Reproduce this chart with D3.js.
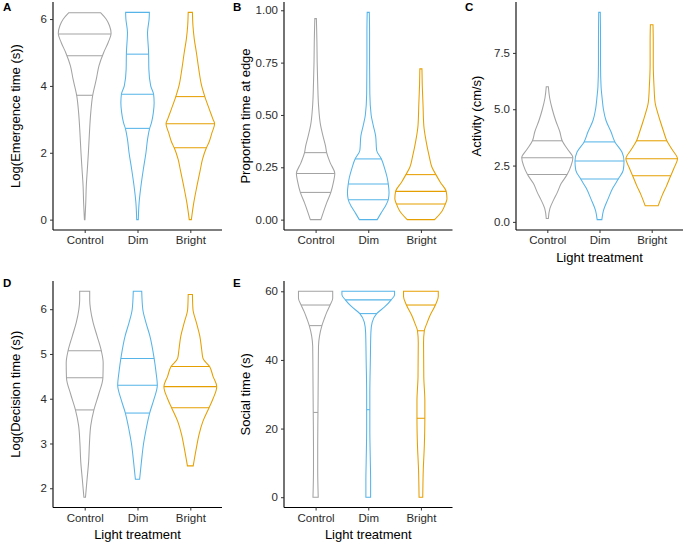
<!DOCTYPE html>
<html>
<head>
<meta charset="utf-8">
<script src="https://cdn.jsdelivr.net/npm/d3@7"></script>
<style>
  html, body { margin: 0; padding: 0; background: #ffffff; }
  svg { display: block; }
  text { font-family: "Liberation Sans", Arial, sans-serif; }
</style>
</head>
<body>
<svg id="chart" width="685" height="544"></svg>
<script>
// ---------------- DATA ----------------
const categories = ["Control", "Dim", "Bright"];
const seriesColors = ["#A3A3A3", "#56B4E9", "#E69F00"];

// density profiles: [value, relative density], one array per treatment
const emergenceDensity = [
  [[6.19,0.6],[6.0,0.81],[5.8,0.94],[5.57,1.0],[5.3,0.89],[5.0,0.72],[4.6,0.54],[4.2,0.44],[3.7,0.3],[3.2,0.23],[2.6,0.18],[2.0,0.14],[1.5,0.1],[1.0,0.06],[0.5,0.04],[0.0,0.01]],
  [[6.2,0.45],[6.0,0.44],[5.6,0.38],[5.0,0.42],[4.5,0.43],[4.0,0.5],[3.75,0.61],[3.5,0.63],[3.2,0.6],[2.9,0.53],[2.73,0.46],[2.4,0.38],[2.0,0.32],[1.5,0.22],[1.0,0.13],[0.5,0.06],[0.0,0.03]],
  [[6.2,0.08],[5.8,0.1],[5.4,0.15],[5.0,0.23],[4.5,0.32],[4.0,0.43],[3.68,0.55],[3.3,0.72],[3.0,0.86],[2.87,0.92],[2.6,0.82],[2.3,0.7],[2.15,0.61],[1.8,0.46],[1.5,0.38],[1.0,0.25],[0.5,0.13],[0.0,0.04]]
];
const emergenceQuantiles = [[3.72,4.9,5.55],[2.73,3.75,4.95],[2.15,2.87,3.68]];

const edgeDensity = [
  [[0.96,0.03],[0.85,0.05],[0.75,0.06],[0.65,0.08],[0.55,0.11],[0.45,0.19],[0.4,0.28],[0.35,0.38],[0.32,0.42],[0.27,0.56],[0.22,0.73],[0.18,0.68],[0.13,0.58],[0.08,0.42],[0.03,0.28],[0.0,0.2]],
  [[0.99,0.04],[0.9,0.05],[0.75,0.05],[0.6,0.06],[0.5,0.11],[0.45,0.19],[0.4,0.28],[0.33,0.32],[0.29,0.5],[0.25,0.61],[0.2,0.72],[0.17,0.76],[0.13,0.79],[0.095,0.76],[0.06,0.63],[0.03,0.48],[0.0,0.34]],
  [[0.72,0.04],[0.65,0.05],[0.55,0.08],[0.45,0.11],[0.38,0.19],[0.3,0.32],[0.25,0.42],[0.215,0.57],[0.18,0.73],[0.135,0.96],[0.1,0.99],[0.075,0.93],[0.04,0.8],[0.0,0.52]]
];
const edgeQuantiles = [[0.13,0.22,0.32],[0.095,0.17,0.29],[0.075,0.135,0.215]];

const activityDensity = [
  [[6.0,0.04],[5.5,0.09],[5.0,0.19],[4.5,0.32],[4.0,0.48],[3.6,0.57],[3.2,0.79],[2.85,0.98],[2.5,0.91],[2.1,0.76],[1.7,0.53],[1.3,0.38],[1.0,0.25],[0.6,0.1],[0.15,0.04]],
  [[9.3,0.03],[8.0,0.04],[7.0,0.04],[6.0,0.06],[5.5,0.1],[5.0,0.15],[4.5,0.25],[4.0,0.44],[3.55,0.59],[3.1,0.86],[2.7,0.94],[2.3,0.91],[1.9,0.72],[1.5,0.51],[1.0,0.32],[0.5,0.15],[0.1,0.09]],
  [[8.75,0.05],[8.0,0.06],[7.0,0.06],[6.0,0.09],[5.3,0.13],[5.0,0.19],[4.5,0.32],[4.0,0.46],[3.6,0.58],[3.2,0.79],[2.8,0.99],[2.4,0.86],[2.05,0.73],[1.6,0.57],[1.2,0.41],[0.72,0.25]]
];
const activityQuantiles = [[2.1,2.85,3.6],[1.9,2.7,3.55],[2.05,2.8,3.6]];

const decisionDensity = [
  [[6.4,0.19],[6.2,0.19],[6.0,0.22],[5.7,0.32],[5.4,0.47],[5.07,0.63],[4.8,0.7],[4.47,0.69],[4.1,0.53],[3.75,0.35],[3.4,0.23],[3.0,0.18],[2.6,0.15],[2.2,0.09],[1.8,0.03]],
  [[6.4,0.16],[6.0,0.2],[5.7,0.32],[5.4,0.47],[4.9,0.63],[4.6,0.7],[4.3,0.75],[4.0,0.63],[3.68,0.46],[3.3,0.32],[3.0,0.23],[2.6,0.15],[2.2,0.08]],
  [[6.33,0.08],[6.0,0.1],[5.7,0.23],[5.4,0.36],[5.1,0.43],[4.9,0.48],[4.72,0.73],[4.5,0.86],[4.27,1.0],[4.0,0.86],[3.8,0.71],[3.5,0.48],[3.2,0.33],[2.9,0.23],[2.5,0.11]]
];
const decisionQuantiles = [[3.75,4.47,5.07],[3.68,4.3,4.9],[3.8,4.27,4.72]];

const socialDensity = [
  [[60,0.65],[58,0.65],[56,0.55],[54,0.43],[52,0.33],[50,0.24],[47,0.15],[44,0.11],[35,0.1],[25,0.09],[15,0.08],[8,0.08],[0,0.1]],
  [[60,1.0],[59,1.0],[57.5,0.87],[55.5,0.63],[53.5,0.32],[51,0.15],[48,0.1],[40,0.08],[30,0.06],[20,0.06],[10,0.08],[5,0.09],[0,0.09]],
  [[60,0.66],[58.5,0.66],[56,0.55],[53,0.35],[50.5,0.22],[48.5,0.13],[45,0.1],[35,0.11],[28,0.15],[23,0.15],[15,0.13],[8,0.09],[0,0.07]]
];
const socialQuantiles = [[24.7,50,56],[25.5,53.5,57.5],[23,48.5,56]];

const emergenceTicks = [0, 2, 4, 6];
const edgeTicks = [0, 0.25, 0.5, 0.75, 1.0];
const activityTicks = [0, 2.5, 5, 7.5];
const decisionTicks = [2, 3, 4, 5, 6];
const socialTicks = [0, 20, 40, 60];

// ---------------- LAYOUT ----------------
const panels = [
  { label: "A", title: "Log(Emergence time (s))", density: emergenceDensity, quant: emergenceQuantiles, ticks: emergenceTicks, fmt: d3.format("d"),
    x0: 53, x1: 222, y0: 2, y1: 230, lx: 3, ly: 11, tx: 15, xtitle: false },
  { label: "B", title: "Proportion time at edge", density: edgeDensity, quant: edgeQuantiles, ticks: edgeTicks, fmt: d3.format(".2f"),
    x0: 284, x1: 452.5, y0: 2, y1: 230, lx: 233, ly: 11, tx: 245, xtitle: false },
  { label: "C", title: "Activity (cm/s)", density: activityDensity, quant: activityQuantiles, ticks: activityTicks, fmt: d3.format(".1f"),
    x0: 516, x1: 683, y0: 2, y1: 230, lx: 465, ly: 11, tx: 476, xtitle: true },
  { label: "D", title: "Log(Decision time (s))", density: decisionDensity, quant: decisionQuantiles, ticks: decisionTicks, fmt: d3.format("d"),
    x0: 53, x1: 222, y0: 281, y1: 507.5, lx: 3, ly: 287, tx: 15, xtitle: true },
  { label: "E", title: "Social time (s)", density: socialDensity, quant: socialQuantiles, ticks: socialTicks, fmt: d3.format("d"),
    x0: 284, x1: 452.5, y0: 281, y1: 507.5, lx: 233, ly: 287, tx: 245, xtitle: true }
];

const svg = d3.select("#chart");

function interpDensity(profile, v) {
  const p = profile.slice().sort((a, b) => a[0] - b[0]);
  for (let i = 0; i < p.length - 1; i++) {
    if (v >= p[i][0] && v <= p[i + 1][0]) {
      const t = (v - p[i][0]) / (p[i + 1][0] - p[i][0]);
      return p[i][1] + t * (p[i + 1][1] - p[i][1]);
    }
  }
  return 0;
}

panels.forEach(pn => {
  const g = svg.append("g");
  const allVals = pn.density.flat().map(d => d[0]);
  const mn = d3.min(allVals), mx = d3.max(allVals);
  const pad = (mx - mn) * 0.05;
  const y = d3.scaleLinear().domain([mn - pad, mx + pad]).range([pn.y1, pn.y0]);
  const x = d3.scalePoint().domain(categories).range([pn.x0, pn.x1]).padding(0.6);
  const w = d3.scaleLinear().domain([0, 1]).range([0, x.step() * 0.5]);

  // violins
  pn.density.forEach((prof, i) => {
    const cx = x(categories[i]);
    const data = prof.slice().sort((a, b) => b[0] - a[0]);
    const area = d3.area()
      .y(d => y(d[0]))
      .x0(d => cx - w(d[1]))
      .x1(d => cx + w(d[1]))
      .curve(d3.curveMonotoneY);
    g.append("path")
      .attr("d", area(data))
      .attr("fill", "none")
      .attr("stroke", seriesColors[i])
      .attr("stroke-width", 1.05);
    pn.quant[i].forEach(q => {
      const hw = w(interpDensity(prof, q));
      g.append("line")
        .attr("x1", cx - hw).attr("x2", cx + hw)
        .attr("y1", y(q)).attr("y2", y(q))
        .attr("stroke", seriesColors[i])
        .attr("stroke-width", 1.05);
    });
  });

  // axes
  const yAxis = d3.axisLeft(y).tickValues(pn.ticks).tickFormat(pn.fmt).tickSize(3).tickPadding(3);
  const ya = g.append("g").attr("transform", `translate(${pn.x0},0)`).call(yAxis);
  const xAxis = d3.axisBottom(x).tickSize(3).tickPadding(3);
  const xa = g.append("g").attr("transform", `translate(0,${pn.y1})`).call(xAxis);
  [ya, xa].forEach(a => {
    a.select(".domain").attr("stroke", "#000").attr("stroke-width", 1.1);
    a.selectAll(".tick line").attr("stroke", "#333").attr("stroke-width", 1);
    a.selectAll(".tick text").attr("fill", "#2b2b2b").style("font-size", "11.5px")
      .style("font-family", "'Liberation Sans', Arial, sans-serif");
  });
  ya.select(".domain").attr("d", `M0,${pn.y0}V${pn.y1}`);
  xa.select(".domain").attr("d", `M${pn.x0},0H${pn.x1}`);

  // y title
  g.append("text")
    .attr("transform", `translate(${pn.tx},${(pn.y0 + pn.y1) / 2}) rotate(-90)`)
    .attr("text-anchor", "middle")
    .attr("dominant-baseline", "central")
    .style("font-size", "13px")
    .attr("fill", "#000")
    .text(pn.title);

  if (pn.xtitle) {
    g.append("text")
      .attr("x", (pn.x0 + pn.x1) / 2)
      .attr("y", pn.y1 + 31.5)
      .attr("text-anchor", "middle")
      .style("font-size", "13px")
      .attr("fill", "#000")
      .text("Light treatment");
  }

  // panel label
  g.append("text")
    .attr("x", pn.lx).attr("y", pn.ly)
    .style("font-size", "11.5px").style("font-weight", "bold")
    .attr("fill", "#000")
    .text(pn.label);
});
</script>
</body>
</html>
